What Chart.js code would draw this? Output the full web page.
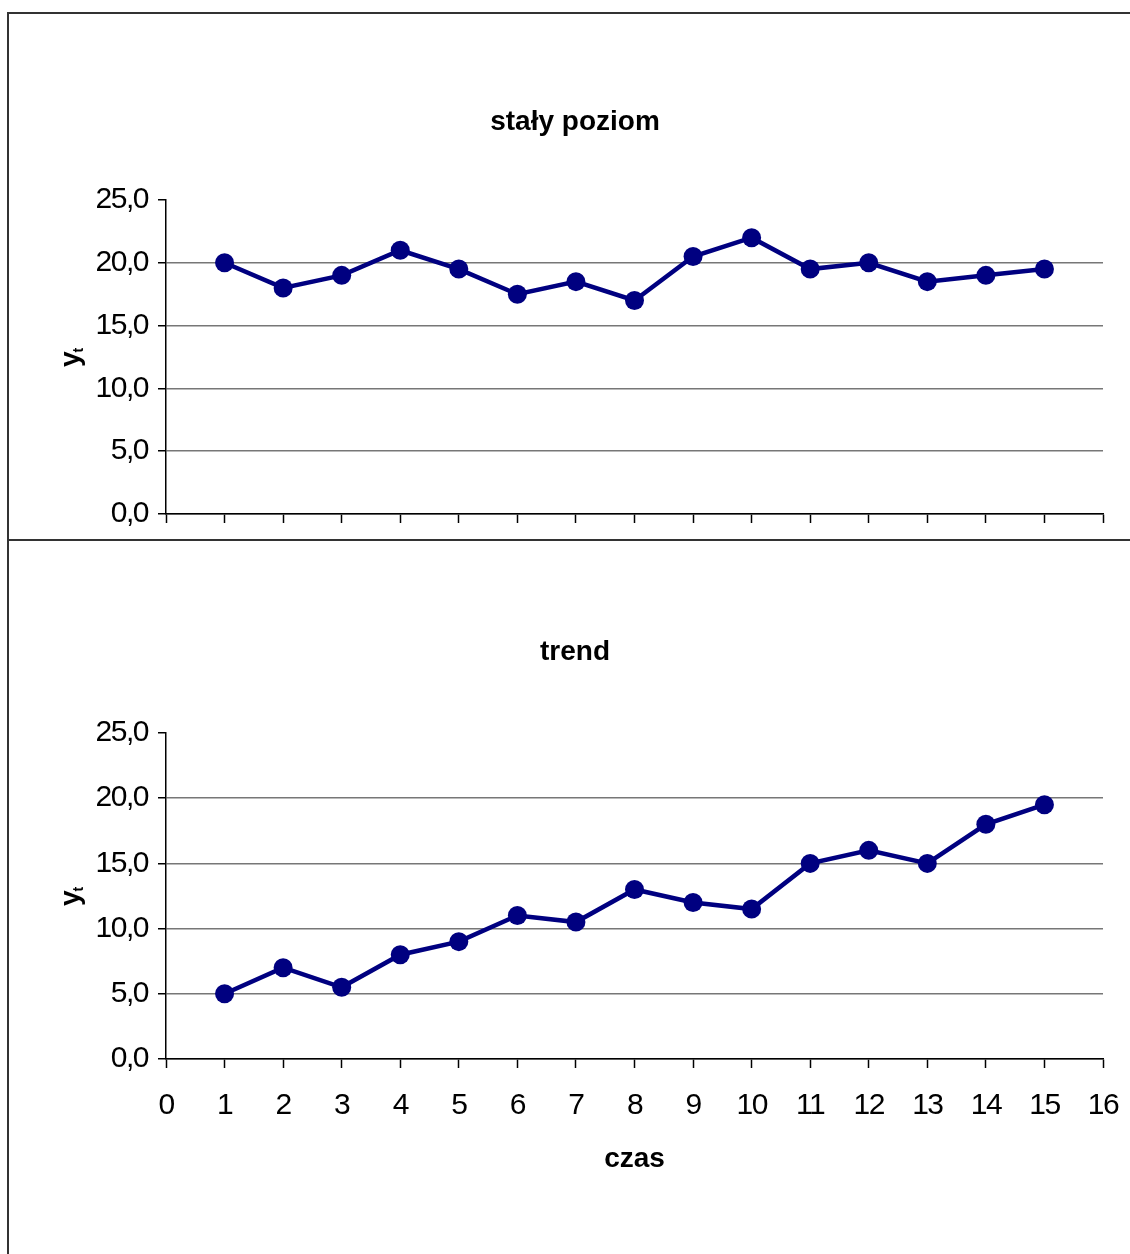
<!DOCTYPE html>
<html>
<head>
<meta charset="utf-8">
<script src="https://cdn.jsdelivr.net/npm/chart.js@4.4.0/dist/chart.umd.min.js"></script>
<style>
  html, body { margin: 0; padding: 0; background: #fff; }
  #page { position: relative; width: 1130px; height: 1254px; overflow: hidden; }
  canvas { position: absolute; left: 0; }
  #c1 { top: 0; }
  #c2 { top: 540px; }
  .rule { position: absolute; background: #333; }
</style>
</head>
<body>
<div id="page">
  <canvas id="c1" width="1130" height="540"></canvas>
  <canvas id="c2" width="1130" height="714"></canvas>
  <div class="rule" style="left:8px;top:12px;width:1122px;height:2px"></div>
  <div class="rule" style="left:8px;top:539px;width:1122px;height:2px"></div>
  <div class="rule" style="left:7px;top:12px;width:2px;height:1242px"></div>
</div>
<script>
// time points (x) and the two series
const czas = [1, 2, 3, 4, 5, 6, 7, 8, 9, 10, 11, 12, 13, 14, 15];
const stalyPoziom = [20.0, 18.0, 19.0, 21.0, 19.5, 17.5, 18.5, 17.0, 20.5, 22.0, 19.5, 20.0, 18.5, 19.0, 19.5];
const trend = [5.0, 7.0, 5.5, 8.0, 9.0, 11.0, 10.5, 13.0, 12.0, 11.5, 15.0, 16.0, 15.0, 18.0, 19.5];

// axis ticks
const yTicks = [0, 5, 10, 15, 20, 25];
const xTicks = [0, 1, 2, 3, 4, 5, 6, 7, 8, 9, 10, 11, 12, 13, 14, 15, 16];

const FONT = '"Liberation Sans", Arial, Helvetica, sans-serif';
const NAVY = '#000080';

// tick labels are set a little tighter than the default spacing
function tightLabels(scale) {
  if (scale._tightPatched) return;
  scale._tightPatched = true;
  const orig = scale.drawLabels;
  scale.drawLabels = function (area) {
    const ctx = this.ctx;
    ctx.save();
    try { ctx.letterSpacing = '-1.5px'; } catch (e) {}
    orig.call(this, area);
    ctx.restore();
  };
}

// rotated "y" with subscript "t" as the value axis caption
const yCaptionPlugin = {
  id: 'yCaption',
  afterDraw(chart) {
    const { ctx, chartArea } = chart;
    const cy = (chartArea.top + chartArea.bottom) / 2;
    ctx.save();
    ctx.fillStyle = '#000';
    ctx.textBaseline = 'alphabetic';
    ctx.textAlign = 'left';
    ctx.translate(79, cy);
    ctx.rotate(-Math.PI / 2);
    ctx.font = 'bold 28px ' + FONT;
    const wy = ctx.measureText('y').width;
    ctx.font = 'bold 14px ' + FONT;
    const wt = ctx.measureText('t').width;
    const start = -(wy + wt) / 2;
    ctx.font = 'bold 28px ' + FONT;
    ctx.fillText('y', start, 0);
    ctx.font = 'bold 14px ' + FONT;
    ctx.fillText('t', start + wy - 1, 4);
    ctx.restore();
  }
};

function makeChart(canvasId, title, values, geo) {
  const data = czas.map((t, i) => ({ x: t, y: values[i] }));
  return new Chart(document.getElementById(canvasId), {
    type: 'line',
    data: {
      datasets: [{
        data: data,
        borderColor: NAVY,
        backgroundColor: NAVY,
        borderWidth: 4.5,
        pointRadius: 9.5,
        pointHoverRadius: 9.5,
        pointBackgroundColor: NAVY,
        pointBorderColor: NAVY,
        pointBorderWidth: 0,
        tension: 0,
        fill: false
      }]
    },
    options: {
      responsive: false,
      animation: false,
      devicePixelRatio: 1,
      events: [],
      layout: { padding: { left: 47, right: 27, top: 0, bottom: 0 } },
      plugins: {
        legend: { display: false },
        tooltip: { enabled: false },
        title: {
          display: true,
          text: title,
          color: '#000',
          font: { family: FONT, size: 28, weight: 'bold', lineHeight: 1.2 },
          padding: { top: geo.titleTop, bottom: geo.titleBottom }
        }
      },
      scales: {
        x: {
          type: 'linear',
          min: 0,
          max: 16,
          afterBuildTicks: s => { s.ticks = xTicks.map(v => ({ value: v })); },
          afterFit: s => {
            s.height = geo.xHeight; s.paddingLeft = 0; s.paddingRight = 0;
            tightLabels(s);
          },
          grid: { drawOnChartArea: false, drawTicks: true, tickLength: 9, tickColor: '#000', tickWidth: 1.5 },
          border: { display: true, color: '#000', width: 1.5 },
          ticks: {
            display: geo.xLabels,
            color: '#000',
            padding: 20,
            maxRotation: 0,
            autoSkip: false,
            font: { family: FONT, size: 30 },
            callback: v => String(v)
          },
          title: {
            display: geo.xLabels,
            text: 'czas',
            color: '#000',
            font: { family: FONT, size: 28, weight: 'bold', lineHeight: 1.2 },
            padding: { top: 0, bottom: 77.5 }
          }
        },
        y: {
          type: 'linear',
          min: 0,
          max: 25,
          afterBuildTicks: s => { s.ticks = yTicks.map(v => ({ value: v })); },
          afterFit: s => {
            s.width = 119; s.paddingTop = 0; s.paddingBottom = 0;
            tightLabels(s);
          },
          grid: {
            color: c => (c.tick && c.tick.value === 25) ? 'rgba(0,0,0,0)' : '#777',
            lineWidth: 1.5,
            drawTicks: true,
            tickLength: 8,
            tickColor: '#000',
            tickWidth: 1.5
          },
          border: { display: true, color: '#000', width: 1.5 },
          ticks: {
            color: '#000',
            padding: 10,
            font: { family: FONT, size: 30 },
            callback: v => Number(v).toFixed(1).replace('.', ',')
          }
        }
      }
    },
    plugins: [yCaptionPlugin]
  });
}

makeChart('c1', 'stały poziom', stalyPoziom, { titleTop: 105, titleBottom: 61.4, xHeight: 26, xLabels: false });
makeChart('c2', 'trend', trend, { titleTop: 95, titleBottom: 64.4, xHeight: 195, xLabels: true });
</script>
</body>
</html>
